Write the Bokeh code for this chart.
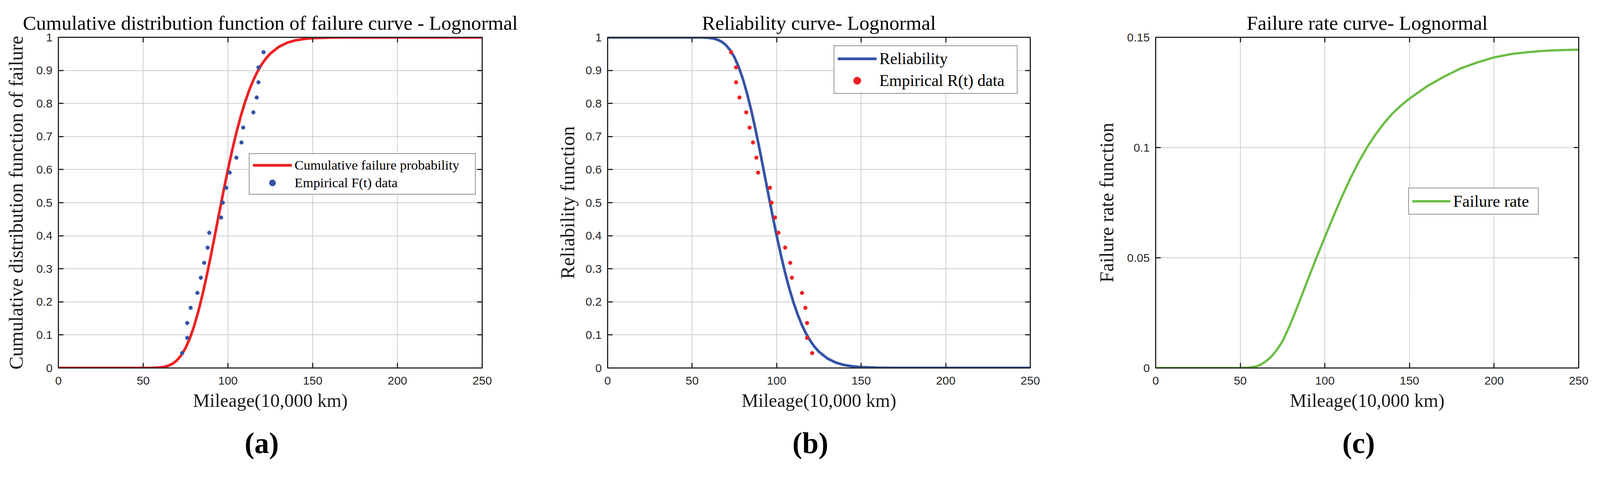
from bokeh.plotting import figure
from bokeh.models import (LinearAxis, FixedTicker, CustomJSTickFormatter, Legend,
                          LegendItem, Range1d)
from bokeh.layouts import row
from bokeh.embed import file_html
from bokeh.resources import INLINE

# ---------------- data ----------------
mileage_ticks = [0, 50, 100, 150, 200, 250]
prob_ticks = [0, 0.1, 0.2, 0.3, 0.4, 0.5, 0.6, 0.7, 0.8, 0.9, 1]
rate_ticks = [0, 0.05, 0.1, 0.15]

emp_mileage = [73, 76, 76, 78, 82, 84, 86, 88, 89, 96, 97, 99, 101, 105, 108, 109,
               115, 117, 118, 118, 121]
emp_F = [0.045, 0.091, 0.136, 0.182, 0.227, 0.273, 0.318, 0.364, 0.409, 0.455, 0.5,
         0.545, 0.591, 0.636, 0.682, 0.727, 0.773, 0.818, 0.864, 0.909, 0.955]
emp_R = [0.955, 0.909, 0.864, 0.818, 0.773, 0.727, 0.682, 0.636, 0.591, 0.545, 0.5,
         0.455, 0.409, 0.364, 0.318, 0.273, 0.227, 0.182, 0.136, 0.091, 0.045]

curve_mileage = [0, 50, 55, 60, 62.5, 65, 67.5, 70, 72.5, 75, 77.5, 80, 82.5, 85, 87.5,
                 90, 92.5, 95, 97.5, 100, 102.5, 105, 107.5, 110, 112.5, 115, 117.5, 120,
                 122.5, 125, 130, 135, 140, 145, 150, 160, 170, 180, 200, 250]
curve_F = [0, 0.0, 0.0002, 0.0016, 0.0035, 0.0072, 0.0134, 0.0236, 0.0389, 0.0603,
           0.0891, 0.1257, 0.1701, 0.2218, 0.2793, 0.3416, 0.4067, 0.4727, 0.5377,
           0.6001, 0.6585, 0.7121, 0.7602, 0.8027, 0.8395, 0.8708, 0.8971, 0.9188,
           0.9366, 0.9508, 0.9712, 0.9837, 0.9910, 0.9951, 0.9974, 0.9993, 0.9998,
           1.0, 1.0, 1.0]
curve_R = [1, 1.0, 0.9998, 0.9984, 0.9965, 0.9928, 0.9866, 0.9764, 0.9611, 0.9397,
           0.9109, 0.8743, 0.8299, 0.7782, 0.7207, 0.6584, 0.5933, 0.5273, 0.4623,
           0.3999, 0.3415, 0.2879, 0.2398, 0.1973, 0.1605, 0.1292, 0.1029, 0.0812,
           0.0634, 0.0492, 0.0288, 0.0163, 0.0090, 0.0049, 0.0026, 0.0007, 0.0002,
           0.0, 0.0, 0.0]

rate_mileage = [0, 50, 55, 60, 62.5, 65, 67.5, 70, 72.5, 75, 77.5, 80, 85, 90, 95, 100,
                105, 110, 115, 120, 125, 130, 135, 140, 145, 150, 160, 170, 180, 190,
                200, 210, 220, 230, 240, 250]
rate_values = [0, 0, 0.0002, 0.0008, 0.0017, 0.0030, 0.0045, 0.0066, 0.0092, 0.0122,
               0.0163, 0.0206, 0.0302, 0.0402, 0.0500, 0.0594, 0.0687, 0.0776, 0.0859,
               0.0935, 0.1002, 0.1060, 0.1111, 0.1155, 0.1191, 0.1222, 0.1276, 0.1320,
               0.1358, 0.1386, 0.1409, 0.1424, 0.1433, 0.1439, 0.1442, 0.1444]

# ---------------- style ----------------
RED = "#ED2024"
BLUE = "#3553A6"
GREEN = "#6CBD45"
DARK = "#262626"
SERIF = "Liberation Serif"
SANS = "Liberation Sans"

S = 1 / 1.037          # global scale of the layout


def px(v):
    return int(round(v * S))


def fs(v):
    return "%.1fpx" % (v * S)


FIG_H = px(1230)
TOP = px(99)
FRAME_H = px(877)
BOTTOM = FIG_H - TOP - FRAME_H


def fmt():
    return CustomJSTickFormatter(code="return String(tick);")


def blank_fmt():
    return CustomJSTickFormatter(code="return '';")


def make_fig(width, left, right, title, ylabel, yticks, ymax, ylab_standoff, letter):
    p = figure(width=px(width), height=FIG_H, output_backend="svg", toolbar_location=None,
               x_range=Range1d(0, 250), y_range=Range1d(0, ymax),
               min_border_left=px(left), min_border_right=px(right),
               min_border_top=TOP, min_border_bottom=BOTTOM)
    p.background_fill_color = "white"
    p.border_fill_color = "white"
    p.outline_line_color = DARK
    p.outline_line_width = 3 * S

    p.title.text = title
    p.title.text_font = SERIF
    p.title.text_font_size = fs(53)
    p.title.text_font_style = "normal"
    p.title.text_color = "black"
    p.title.align = "center"
    p.title.standoff = px(18)

    xt = FixedTicker(ticks=mileage_ticks)
    yt = FixedTicker(ticks=yticks)
    for ax, t in ((p.xaxis[0], xt), (p.yaxis[0], yt)):
        ax.ticker = t
        ax.formatter = fmt()
        ax.major_tick_in = px(13)
        ax.major_tick_out = 0
        ax.minor_tick_line_color = None
        ax.major_tick_line_color = DARK
        ax.major_tick_line_width = 3 * S
        ax.axis_line_color = DARK
        ax.axis_line_width = 3 * S
        ax.major_label_text_font = SANS
        ax.major_label_text_font_size = fs(31)
        ax.major_label_text_color = DARK
        ax.axis_label_text_font = SERIF
        ax.axis_label_text_font_style = "normal"
        ax.axis_label_text_color = "#1a1a1a"
    p.xaxis[0].axis_label = "Mileage(10,000 km)"
    p.xaxis[0].axis_label_text_font_size = fs(50)
    p.xaxis[0].major_label_standoff = px(23)
    p.xaxis[0].axis_label_standoff = px(11)
    p.yaxis[0].axis_label = ylabel
    p.yaxis[0].axis_label_text_font_size = fs(52)
    p.yaxis[0].major_label_standoff = px(16)
    p.yaxis[0].axis_label_standoff = px(ylab_standoff)

    for loc, t in (("above", xt), ("right", yt)):
        ax = LinearAxis(ticker=t, formatter=blank_fmt(), major_label_text_font_size="1px",
                        major_label_standoff=0,
                        major_tick_in=px(13), major_tick_out=0, minor_tick_line_color=None,
                        major_tick_line_color=DARK, major_tick_line_width=3 * S,
                        axis_line_color=DARK, axis_line_width=3 * S)
        p.add_layout(ax, loc)

    p.xgrid.ticker = xt
    p.ygrid.ticker = yt
    for g in (p.xgrid[0], p.ygrid[0]):
        g.grid_line_color = "#cccccc"
        g.grid_line_width = 2 * S

    # panel letter: an empty axis below the x-axis, whose label is the letter
    # (trailing en/hair space nudges the centred letter slightly to the left)
    lax = LinearAxis(ticker=FixedTicker(ticks=[]), formatter=blank_fmt(),
                     axis_label=letter + "\u2002\u200a",
                     axis_label_text_font=SERIF, axis_label_text_font_size=fs(78),
                     axis_label_text_font_style="bold", axis_label_text_color="black",
                     axis_label_standoff=px(39),
                     axis_line_color=None, major_tick_line_color=None,
                     minor_tick_line_color=None, major_label_text_font_size="1px",
                     major_label_standoff=0, major_tick_in=0, major_tick_out=0)
    p.add_layout(lax, "below")
    return p


def style_legend(lg, loc, font_size, glyph_w, row_h, spacing, label_w):
    lg.location = (px(loc[0]), px(loc[1]))
    lg.margin = 0
    lg.padding = px(8)
    lg.spacing = px(spacing)
    lg.border_line_color = DARK
    lg.border_line_width = 2.7 * S
    lg.background_fill_color = "white"
    lg.background_fill_alpha = 1
    lg.label_text_font = SERIF
    lg.label_text_font_size = fs(font_size)
    lg.label_text_color = "black"
    lg.glyph_width = px(glyph_w)
    lg.glyph_height = px(row_h)
    lg.label_height = px(row_h)
    lg.label_width = px(label_w)
    lg.label_standoff = px(7)


# ---------------- (a) ----------------
pa = make_fig(1442, 155, 163, "Cumulative distribution function of failure curve - Lognormal",
              "Cumulative distribution function of failure", prob_ticks, 1, 22, "(a)")
ra_line = pa.line(curve_mileage, curve_F, line_color=RED, line_width=7 * S, line_join="round")
ra_pts = pa.scatter(emp_mileage, emp_F, size=10 * S, fill_color=BLUE, line_color=BLUE)
lga = Legend(items=[LegendItem(label="Cumulative failure probability", renderers=[ra_line]),
                    LegendItem(label="Empirical F(t) data", renderers=[ra_pts])])
style_legend(lga, (506, 459), 36, 104, 43, 4, 471)
pa.add_layout(lga, "center")

# ---------------- (b) ----------------
pb = make_fig(1400, 170, 108, "Reliability curve- Lognormal", "Reliability function",
              prob_ticks, 1, 16, "(b)")
rb_line = pb.line(curve_mileage, curve_R, line_color=BLUE, line_width=7 * S, line_join="round")
rb_pts = pb.scatter(emp_mileage, emp_R, size=10 * S, fill_color=RED, line_color=RED)
lgb = Legend(items=[LegendItem(label="Reliability", renderers=[rb_line]),
                    LegendItem(label="Empirical R(t) data", renderers=[rb_pts])])
style_legend(lgb, (600, 727), 43, 104, 50, 8, 357)
pb.add_layout(lgb, "center")

# ---------------- (c) ----------------
pc = make_fig(1398, 225, 50, "Failure rate curve- Lognormal", "Failure rate function",
              rate_ticks, 0.15, 22, "(c)")
rc_line = pc.line(rate_mileage, rate_values, line_color=GREEN, line_width=6 * S,
                  line_join="round")
lgc = Legend(items=[LegendItem(label="Failure rate", renderers=[rc_line])])
style_legend(lgc, (671, 406), 44, 102, 51, 0, 217)
pc.add_layout(lgc, "center")

layout = row(pa, pb, pc, spacing=0)
open("out.html", "w").write(file_html(layout, INLINE))
